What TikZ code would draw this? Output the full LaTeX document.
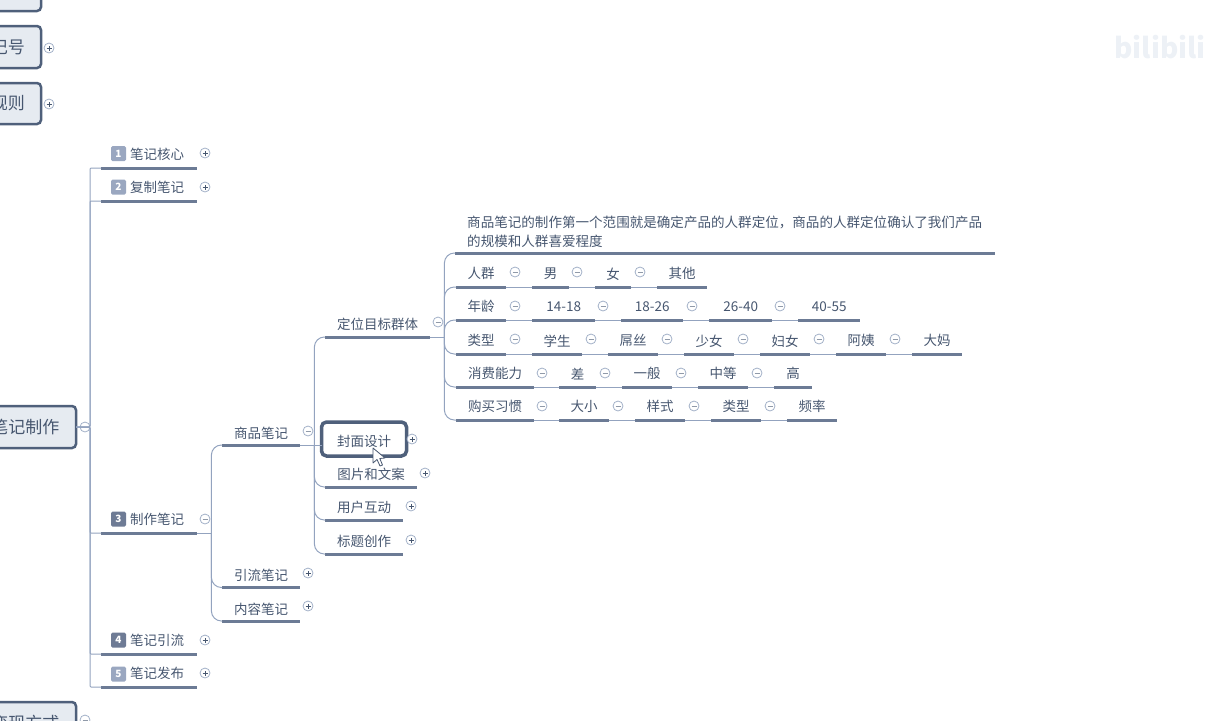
\documentclass[tikz,border=0pt]{standalone}
\usepackage{fontspec}
\setmainfont{Noto Sans CJK SC}
\definecolor{txt}{HTML}{46566F}
\definecolor{uline}{HTML}{6C7B95}
\definecolor{conn}{HTML}{93A3BF}
\definecolor{rootfill}{HTML}{E6EBF1}
\definecolor{rootline}{HTML}{4F607B}
\definecolor{badge}{HTML}{9AA7C0}
\definecolor{badged}{HTML}{6E7B95}
\definecolor{ctl}{HTML}{A3B1C8}
\definecolor{wm}{HTML}{EDF1F6}
\newcount\ctlcount
\tikzset{
  topic/.style={inner sep=0pt,text=txt,font=\fontsize{13.5}{16}\selectfont,minimum height=27pt,anchor=south west},
  ulinepath/.style={draw=uline,line width=3pt},
  connpath/.style={draw=conn,line width=1pt,rounded corners=10pt},
  stempath/.style={draw=conn,line width=1pt},
  rowlink/.style={draw=conn,line width=1pt},
  rootbox/.style={draw=rootline,fill=rootfill,line width=2.5pt,rounded corners=4pt,text=txt,font=\fontsize{17}{20}\selectfont,inner sep=0pt,outer sep=0pt,anchor=north west},
  ctlbase/.style={circle,draw=ctl,fill=white,line width=.8pt,minimum size=10pt,inner sep=0pt},
  minusctl/.style={ctlbase,path picture={\draw[txt!60,line width=.7pt] ([xshift=-2.5pt]path picture bounding box.center)--([xshift=2.5pt]path picture bounding box.center);}},
  plusctl/.style={ctlbase,path picture={\draw[txt,line width=.8pt] ([xshift=-2.5pt]path picture bounding box.center)--([xshift=2.5pt]path picture bounding box.center) ([yshift=-2.5pt]path picture bounding box.center)--([yshift=2.5pt]path picture bounding box.center);}},
  badgebox/.style={rounded corners=1.5pt,minimum size=15pt,inner sep=0pt,text=white,font=\fontsize{10}{12}\selectfont\bfseries},
}
\newcommand{\tp}[5]{%
  \pgfmathsetmacro{\tpw}{#3-#2}%
  \node[topic,minimum width=\tpw pt] (#1) at (#2,#4) {#5};
  \draw[ulinepath] (#1.south west) -- (#1.south east);}
\newcommand{\cm}[2]{\global\advance\ctlcount by 1 \node[minusctl] (ctl\the\ctlcount) at (#1,#2) {};}
\newcommand{\cp}[2]{\global\advance\ctlcount by 1 \node[plusctl] (ctl\the\ctlcount) at (#1,#2) {};}
\newcommand{\branch}[2]{\draw[stempath] (#1.south east) -- ++(14,0) coordinate (tmpb);\draw[connpath] (tmpb) |- (#2.south west);}
\newcommand{\rlink}[2]{\draw[rowlink] (#1.south east) -- (#2.south west);}
\begin{document}
\begin{tikzpicture}[x=1pt,y=-1pt]
\useasboundingbox (0,0) rectangle (1230,720);
\clip (0,0) rectangle (1230,720);
% watermark
\node[text=wm,font=\fontsize{28}{32}\selectfont\bfseries,inner sep=0pt] (wmark) at (1160,47) {bilibili};
% roots
\node[rootbox,minimum width=81pt,minimum height=29pt] (r0) at (-40,-18) {};
\node[rootbox,minimum width=81pt,minimum height=42pt] (r1) at (-40,26) {\hspace*{15pt}记号};
\node[rootbox,minimum width=81pt,minimum height=41pt] (r2) at (-40,83) {\hspace*{15pt}规则};
\node[rootbox,minimum width=116pt,minimum height=42pt] (r3) at (-40,406) {\hspace*{15pt}笔记制作};
\node[rootbox,minimum width=116pt,minimum height=42pt] (r4) at (-40,702) {\hspace*{15pt}变现方式};
\cp{49}{48}\cp{49}{104}\cm{85}{427}\cm{85}{720}
% level 1
\tp{a}{101}{197}{168}{\hspace*{16pt}笔记核心}
\tp{b}{101}{197}{201}{\hspace*{16pt}复制笔记}
\tp{c}{101}{197}{533}{\hspace*{16pt}制作笔记}
\tp{d}{101}{197}{654}{\hspace*{16pt}笔记引流}
\tp{e}{101}{197}{687}{\hspace*{16pt}笔记发布}
\node[badgebox,fill=badge]  (ba) at (118.5,153.5) {1};
\node[badgebox,fill=badge]  (bb) at (118.5,187) {2};
\node[badgebox,fill=badged] (bc) at (118.5,519) {3};
\node[badgebox,fill=badged] (bd) at (118.5,640) {4};
\node[badgebox,fill=badge]  (be) at (118.5,674) {5};
\cp{205}{153}\cp{205}{187}\cm{205}{519}\cp{205}{640}\cp{205}{673}
\foreach \t in {a,b,c,d,e}{\draw[draw=conn,line width=1pt,rounded corners=1pt] (r3.east) -- ++(14,0) |- (\t.south west);}
% level 2
\begin{scope}[topic/.append style={minimum height=23pt}]
\tp{f}{222}{300}{445}{商品笔记}
\tp{g}{222}{300}{587.5}{引流笔记}
\tp{h}{222}{300}{621}{内容笔记}
\end{scope}
\cm{308}{431}\cp{308}{573}\cp{308}{606}
\branch{c}{f}\branch{c}{g}\branch{c}{h}
% level 3
\begin{scope}[topic/.append style={minimum height=25pt}]
\tp{i}{325}{430}{337}{定位目标群体}
\tp{k}{325}{417}{487}{图片和文案}
\tp{l}{325}{403}{520}{用户互动}
\tp{m}{325}{403}{554}{标题创作}
\end{scope}
\node[draw=rootline,fill=white,line width=3.5pt,rounded corners=5pt,text=txt,font=\fontsize{13.5}{16}\selectfont,minimum width=85pt,minimum height=34pt,inner sep=0pt,outer sep=0pt] (j) at (364,439) {\raisebox{0pt}[18pt][4pt]{封面设计}};
\cm{438}{322}\cp{412}{439}\cp{425}{473}\cp{411}{506}\cp{411}{540}
\branch{f}{i}\branch{f}{k}\branch{f}{l}\branch{f}{m}
\draw[stempath] (f.south east) -- (j.west |- f.south east);
% level 4
\node[inner sep=0pt,text=txt,font=\fontsize{13.55}{19}\selectfont,align=left,text width=528pt,anchor=west] (n) at (467,232) {商品笔记的制作第一个范围就是确定产品的人群定位，商品的人群定位确认了我们产品\\的规模和人群喜爱程度};
\coordinate (ns) at (455,253);
\coordinate (ne) at (995,253);
\draw[ulinepath] (ns) -- (ne);
\draw[stempath] (i.south east) -- ++(14,0) coordinate (tmpi);
\draw[connpath] (tmpi) |- (ns);
% rows
\begin{scope}[topic/.append style={minimum height=26pt}]
\tp{r1a}{456}{506}{287}{人群}\tp{r1b}{532}{569}{287}{男}\tp{r1c}{595}{631}{287}{女}\tp{r1d}{657}{707}{287}{其他}
\tp{r2a}{456}{506}{320}{年龄}\tp{r2b}{532}{595}{320}{14-18}\tp{r2c}{621}{683}{320}{18-26}\tp{r2d}{709}{772}{320}{26-40}\tp{r2e}{798}{860}{320}{40-55}
\tp{r3a}{456}{506}{354}{类型}\tp{r3b}{532}{582}{354}{学生}\tp{r3c}{608}{658}{354}{屌丝}\tp{r3d}{684}{734}{354}{少女}\tp{r3e}{760}{810}{354}{妇女}\tp{r3f}{836}{886}{354}{阿姨}\tp{r3g}{912}{962}{354}{大妈}
\tp{r4a}{456}{534}{387}{消费能力}\tp{r4b}{559}{596}{387}{差}\tp{r4c}{622}{672}{387}{一般}\tp{r4d}{698}{748}{387}{中等}\tp{r4e}{774}{812}{387}{高}
\tp{r5a}{456}{534}{420}{购买习惯}\tp{r5b}{559}{609}{420}{大小}\tp{r5c}{635}{685}{420}{样式}\tp{r5d}{711}{761}{420}{类型}\tp{r5e}{787}{837}{420}{频率}
\end{scope}
\cm{515}{272}\cm{577}{272}\cm{640}{272}
\rlink{r1a}{r1b}\rlink{r1b}{r1c}\rlink{r1c}{r1d}
\cm{515}{306}\cm{603}{306}\cm{692}{306}\cm{780}{306}
\rlink{r2a}{r2b}\rlink{r2b}{r2c}\rlink{r2c}{r2d}\rlink{r2d}{r2e}
\cm{515}{339}\cm{591}{339}\cm{667}{339}\cm{743}{339}\cm{819}{339}\cm{895}{339}
\rlink{r3a}{r3b}\rlink{r3b}{r3c}\rlink{r3c}{r3d}\rlink{r3d}{r3e}\rlink{r3e}{r3f}\rlink{r3f}{r3g}
\cm{542}{373}\cm{605}{373}\cm{681}{373}\cm{757}{373}
\rlink{r4a}{r4b}\rlink{r4b}{r4c}\rlink{r4c}{r4d}\rlink{r4d}{r4e}
\cm{542}{406}\cm{618}{406}\cm{694}{406}\cm{770}{406}
\rlink{r5a}{r5b}\rlink{r5b}{r5c}\rlink{r5c}{r5d}\rlink{r5d}{r5e}
\foreach \t in {r1a,r2a,r3a,r4a,r5a}{\draw[connpath] (tmpi) |- (\t.south west);}
% cursor
\draw[draw=txt,fill=white,line width=.8pt,line join=round] (373,448) -- (373,463) -- (377,459.5) -- (380,466) -- (382.5,465) -- (379.8,458.5) -- (385,458) -- cycle;
\end{tikzpicture}
\end{document}
